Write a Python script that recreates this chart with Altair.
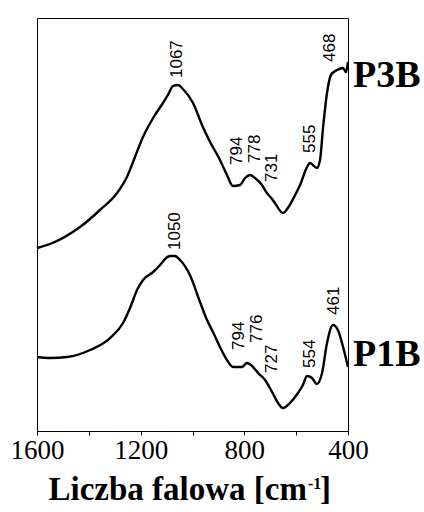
import altair as alt
import pandas as pd

# ---- spectra (wavenumber cm-1, relative absorbance) ----
p3b_wn = [1600, 1550, 1434, 1357, 1291, 1253, 1222, 1191, 1152, 1114, 1095, 1075, 1056, 1037,
          998, 960, 932, 894, 867, 844, 817, 797, 778, 759, 732, 713, 693, 682, 651, 632,
          604, 585, 558, 547, 520, 508, 496, 481, 466, 442, 419, 408, 400]
p3b_ab = [183, 187, 204, 221, 238, 254, 274, 294, 313, 328, 336, 345, 346, 342,
          328, 304, 289, 271, 256, 245, 246, 253, 256, 253, 246, 238, 232, 228, 218, 223,
          236, 246, 264, 268, 263, 271, 304, 338, 356, 361, 363, 359, 369]

p1b_wn = [1600, 1550, 1484, 1395, 1318, 1268, 1241, 1214, 1191, 1152, 1125, 1106, 1087, 1068,
          1048, 1010, 971, 944, 921, 894, 867, 844, 809, 790, 770, 747, 720, 693, 670, 651,
          624, 593, 574, 558, 539, 520, 500, 481, 458, 439, 419, 400]
p1b_ab = [74, 73, 74, 81, 93, 108, 123, 141, 151, 159, 166, 172, 175, 175,
          171, 156, 129, 111, 99, 84, 71, 64, 64, 68, 65, 58, 51, 39, 28, 23,
          28, 38, 46, 55, 53, 47, 58, 88, 106, 101, 84, 64]

# ---- peak annotations ----
peak_text = ["1067", "468", "794", "778", "731", "555",
             "1050", "794", "776", "727", "554", "461"]
peak_wn = [1060, 469, 828, 759, 693, 547,
           1068, 821, 751, 693, 547, 454]
peak_ab = [353, 369, 266, 268, 249, 278,
           181, 81, 88, 58, 63, 116]

# ---- series names ----
series_names = ["P3B", "P1B"]
series_ab = [344, 65]

x_ticks = [1600, 1400, 1200, 1000, 800, 600, 400]

SERIF = "Liberation Serif"
SANS = "Liberation Sans"

spec = pd.concat([
    pd.DataFrame({"series": "P3B", "wn": p3b_wn, "ab": p3b_ab}),
    pd.DataFrame({"series": "P1B", "wn": p1b_wn, "ab": p1b_ab}),
])
peaks = pd.DataFrame({"t": peak_text, "wn": peak_wn, "ab": peak_ab})
names = pd.DataFrame({"t": series_names, "wn": [400, 400], "ab": series_ab})

xs = alt.Scale(domain=[400, 1600], reverse=True, nice=False, zero=False)
ys = alt.Scale(domain=[0, 413], nice=False, zero=False)

xaxis = alt.Axis(values=x_ticks, labelExpr="datum.value % 400 == 0 ? datum.label : ''",
                 format="d", title=None, grid=False, labelFont=SERIF,
                 labelFontSize=27, labelColor="black", tickColor="black", tickSize=4,
                 domainColor="black", labelPadding=2, labelFlush=False, labelOverlap=False)

lines = alt.Chart(spec).mark_line(color="black", strokeWidth=2.4, interpolate="monotone").encode(
    x=alt.X("wn:Q", scale=xs, axis=xaxis),
    y=alt.Y("ab:Q", scale=ys, axis=None),
    detail="series:N",
)

peak_labels = alt.Chart(peaks).mark_text(
    angle=270, align="left", baseline="middle", font=SANS, fontSize=17, color="black"
).encode(x=alt.X("wn:Q", scale=xs), y=alt.Y("ab:Q", scale=ys), text="t:N")

name_labels = alt.Chart(names).mark_text(
    align="left", baseline="alphabetic", font=SERIF, fontWeight="bold",
    fontSize=38, color="black", dx=5
).encode(x=alt.X("wn:Q", scale=xs), y=alt.Y("ab:Q", scale=ys), text="t:N")

title_df = pd.DataFrame({"a": ["Liczba falowa [cm"], "b": ["-1"], "c": ["]"]})
t_main = alt.Chart(title_df).mark_text(
    align="right", baseline="alphabetic", font=SERIF, fontWeight="bold",
    fontSize=33, color="black"
).encode(x=alt.value(270), y=alt.value(482), text="a:N")
t_sup = alt.Chart(title_df).mark_text(
    align="left", baseline="alphabetic", font=SERIF, fontWeight="bold",
    fontSize=16, color="black"
).encode(x=alt.value(271), y=alt.value(471), text="b:N")
t_br = alt.Chart(title_df).mark_text(
    align="left", baseline="alphabetic", font=SERIF, fontWeight="bold",
    fontSize=33, color="black"
).encode(x=alt.value(283), y=alt.value(482), text="c:N")

chart = alt.layer(lines, peak_labels, name_labels, t_main, t_sup, t_br).properties(
    width=311, height=413,
    autosize=alt.AutoSizeParams(type="none"),
    padding={"left": 37, "top": 18, "right": 76, "bottom": 81},
    background="white",
).configure_view(stroke="black", strokeWidth=1)

chart.save("out.html", embed_options={"renderer": "svg", "actions": False})
